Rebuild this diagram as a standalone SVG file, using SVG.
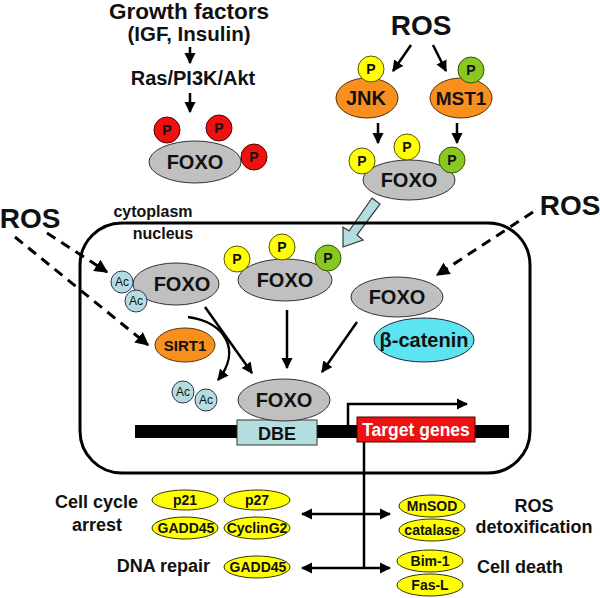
<svg xmlns="http://www.w3.org/2000/svg" width="600" height="598" viewBox="0 0 600 598">
<style>
text{font-family:"Liberation Sans",Arial,sans-serif;font-weight:bold;fill:#111}
.foxo{fill:#c0c0c0;stroke:#333;stroke-width:1}
.pr{fill:#ee1111;stroke:#550000;stroke-width:1}
.py{fill:#ffff00;stroke:#555500;stroke-width:1}
.pg{fill:#88c820;stroke:#335500;stroke-width:1}
.ac{fill:#b4dde0;stroke:#335;stroke-width:1}
.org{fill:#f7901e;stroke:#553300;stroke-width:1}
.gene{fill:#ffff00;stroke:#333300;stroke-width:1}
.ln{stroke:#000;stroke-width:2.5;fill:none}
.dash{stroke:#000;stroke-width:3;fill:none;stroke-dasharray:10,7}
.ft{font-size:20px}
.pt{font-size:14px}
.act{font-size:12px;font-weight:normal}
.gt{font-size:14px}
.lb{font-size:18px}
.ros{font-size:28px}
</style>
<defs>
<marker id="ah" viewBox="0 0 10 10" refX="9" refY="5" markerWidth="4.5" markerHeight="4.5" orient="auto-start-reverse" markerUnits="strokeWidth">
<path d="M0,0 L10,5 L0,10 Z" fill="#000"/>
</marker>
</defs>

<g id="connectors">
<line class="ln" x1="190" y1="47" x2="190" y2="63" marker-end="url(#ah)"/>
<line class="ln" x1="190" y1="93" x2="190" y2="112" marker-end="url(#ah)"/>
<line class="ln" x1="411" y1="45" x2="393" y2="71" marker-end="url(#ah)"/>
<line class="ln" x1="433" y1="45" x2="446" y2="71" marker-end="url(#ah)"/>
<line class="ln" x1="378" y1="123" x2="378" y2="143" marker-end="url(#ah)"/>
<line class="ln" x1="457" y1="123" x2="457" y2="143" marker-end="url(#ah)"/>
<path d="M372,198 L380,204 L357,235 L363,240 L343,247 L343,227 L349,231 Z" fill="#b4dde0" stroke="#333" stroke-width="1.2"/>
<line class="dash" x1="47" y1="233" x2="107" y2="272" marker-end="url(#ah)"/>
<line class="dash" x1="15" y1="237" x2="148" y2="345" marker-end="url(#ah)"/>
<line class="dash" x1="533" y1="212" x2="437" y2="275" marker-end="url(#ah)"/>
<path class="ln" d="M188,317 C225,322 242,350 218,380" marker-end="url(#ah)"/>
<line class="ln" x1="205" y1="307" x2="252" y2="373" marker-end="url(#ah)"/>
<line class="ln" x1="287" y1="310" x2="287" y2="368" marker-end="url(#ah)"/>
<line class="ln" x1="357" y1="322" x2="322" y2="372" marker-end="url(#ah)"/>
<polyline class="ln" points="348,425 348,404 467,404" marker-end="url(#ah)"/>
<line class="ln" x1="364" y1="442" x2="364" y2="568"/>
<line class="ln" x1="302" y1="514" x2="390" y2="514" marker-start="url(#ah)" marker-end="url(#ah)"/>
<line class="ln" x1="302" y1="568" x2="390" y2="568" marker-start="url(#ah)" marker-end="url(#ah)"/>
</g>

<g id="nucleus">
<rect x="80" y="223" width="450" height="250" rx="42" ry="42" fill="none" stroke="#000" stroke-width="3"/>
<text x="153" y="217" text-anchor="middle" style="font-size:16px">cytoplasm</text>
<text x="163" y="239" text-anchor="middle" style="font-size:16px">nucleus</text>
</g>

<g id="growth-factors">
<text x="189" y="19" text-anchor="middle" style="font-size:22.5px">Growth factors</text>
<text x="189" y="41" text-anchor="middle" style="font-size:20.5px">(IGF, Insulin)</text>
<text x="193" y="85" text-anchor="middle" style="font-size:20px">Ras/PI3K/Akt</text>
</g>

<g id="foxo-akt">
<ellipse class="foxo" cx="195" cy="162" rx="46" ry="21"/>
<text class="ft" x="195" y="169" text-anchor="middle">FOXO</text>
<circle class="pr" cx="167" cy="130" r="13"/><text class="pt" x="167" y="135" text-anchor="middle">P</text>
<circle class="pr" cx="219" cy="128" r="13"/><text class="pt" x="219" y="133" text-anchor="middle">P</text>
<circle class="pr" cx="254" cy="157" r="13"/><text class="pt" x="254" y="162" text-anchor="middle">P</text>
</g>

<g id="ros-top"><text class="ros" x="421" y="35" text-anchor="middle">ROS</text></g>
<g id="ros-left"><text class="ros" x="30" y="228" text-anchor="middle">ROS</text></g>
<g id="ros-right"><text class="ros" x="570" y="215" text-anchor="middle">ROS</text></g>

<g id="jnk">
<ellipse class="org" cx="367" cy="98" rx="31" ry="20"/>
<text x="366" y="105" text-anchor="middle" style="font-size:20px">JNK</text>
<circle class="py" cx="371" cy="69" r="13"/><text class="pt" x="371" y="74" text-anchor="middle">P</text>
</g>
<g id="mst1">
<ellipse class="org" cx="461" cy="98" rx="31" ry="20"/>
<text x="461" y="105" text-anchor="middle" style="font-size:19px">MST1</text>
<circle class="pg" cx="471" cy="70" r="13"/><text class="pt" x="471" y="75" text-anchor="middle">P</text>
</g>

<g id="foxo-jnk">
<ellipse class="foxo" cx="409" cy="180" rx="46" ry="20"/>
<text class="ft" x="409" y="187" text-anchor="middle">FOXO</text>
<circle class="py" cx="362" cy="161" r="13"/><text class="pt" x="362" y="166" text-anchor="middle">P</text>
<circle class="py" cx="407" cy="147" r="13"/><text class="pt" x="407" y="152" text-anchor="middle">P</text>
<circle class="pg" cx="452" cy="160" r="13"/><text class="pt" x="452" y="165" text-anchor="middle">P</text>
</g>

<g id="foxo-ac">
<ellipse class="foxo" cx="176" cy="284" rx="43" ry="21"/>
<text class="ft" x="182" y="291" text-anchor="middle">FOXO</text>
<circle class="ac" cx="122" cy="282" r="11"/><text class="act" x="122" y="286" text-anchor="middle">Ac</text>
<circle class="ac" cx="136" cy="301" r="11"/><text class="act" x="136" y="305" text-anchor="middle">Ac</text>
</g>

<g id="sirt1">
<ellipse class="org" cx="185" cy="345" rx="30" ry="17"/>
<text x="185" y="351" text-anchor="middle" style="font-size:15px">SIRT1</text>
</g>

<g id="free-ac">
<circle class="ac" cx="183" cy="392" r="11"/><text class="act" x="183" y="396" text-anchor="middle">Ac</text>
<circle class="ac" cx="206" cy="400" r="11"/><text class="act" x="206" y="404" text-anchor="middle">Ac</text>
</g>

<g id="foxo-p-nuc">
<ellipse class="foxo" cx="285" cy="280" rx="47" ry="21"/>
<text class="ft" x="285" y="287" text-anchor="middle">FOXO</text>
<circle class="py" cx="237" cy="259" r="13"/><text class="pt" x="237" y="264" text-anchor="middle">P</text>
<circle class="py" cx="282" cy="247" r="13"/><text class="pt" x="282" y="252" text-anchor="middle">P</text>
<circle class="pg" cx="328" cy="258" r="13"/><text class="pt" x="328" y="263" text-anchor="middle">P</text>
</g>

<g id="foxo-bcat">
<ellipse class="foxo" cx="397" cy="297" rx="46" ry="20"/>
<text class="ft" x="397" y="304" text-anchor="middle">FOXO</text>
<ellipse cx="424" cy="340" rx="50" ry="22" fill="#5ce4f0" stroke="#224" stroke-width="1"/>
<text x="424" y="347" text-anchor="middle" style="font-size:20px">β-catenin</text>
</g>

<g id="dna">
<rect x="135" y="425" width="374" height="13" fill="#000"/>
<rect x="237" y="420" width="80" height="25" fill="#b4dde0" stroke="#333" stroke-width="1"/>
<text x="277" y="440" text-anchor="middle" style="font-size:18px">DBE</text>
<rect x="357" y="417" width="118" height="25" fill="#ee1111" stroke="#550000" stroke-width="1"/>
<text x="416" y="436" text-anchor="middle" style="font-size:17.5px;fill:#fff">Target genes</text>
</g>

<g id="foxo-dbe">
<ellipse class="foxo" cx="284" cy="400" rx="46" ry="21"/>
<text class="ft" x="284" y="407" text-anchor="middle">FOXO</text>
</g>

<g id="cell-cycle">
<text class="lb" x="138" y="508" text-anchor="end">Cell cycle</text>
<text class="lb" x="97" y="531" text-anchor="middle">arrest</text>
<ellipse class="gene" cx="185" cy="500" rx="33" ry="10"/><text class="gt" x="185" y="505" text-anchor="middle">p21</text>
<ellipse class="gene" cx="257" cy="500" rx="33" ry="10"/><text class="gt" x="257" y="505" text-anchor="middle">p27</text>
<ellipse class="gene" cx="185" cy="528" rx="33" ry="11"/><text class="gt" x="186" y="533" text-anchor="middle">GADD45</text>
<ellipse class="gene" cx="257" cy="528" rx="33" ry="11"/><text class="gt" x="257" y="533" text-anchor="middle">CyclinG2</text>
</g>

<g id="dna-repair">
<text class="lb" x="210" y="572" text-anchor="end">DNA repair</text>
<ellipse class="gene" cx="257" cy="567" rx="33" ry="11"/><text class="gt" x="258" y="572" text-anchor="middle">GADD45</text>
</g>

<g id="ros-detox">
<ellipse class="gene" cx="432" cy="506" rx="33" ry="11"/><text class="gt" x="432" y="511" text-anchor="middle">MnSOD</text>
<ellipse class="gene" cx="432" cy="530" rx="33" ry="11"/><text class="gt" x="432" y="535" text-anchor="middle">catalase</text>
<text class="lb" x="534" y="512" text-anchor="middle">ROS</text>
<text class="lb" x="534" y="533" text-anchor="middle">detoxification</text>
</g>

<g id="cell-death">
<ellipse class="gene" cx="430" cy="561" rx="33" ry="11"/><text class="gt" x="430" y="566" text-anchor="middle">Bim-1</text>
<ellipse class="gene" cx="430" cy="585" rx="33" ry="11"/><text class="gt" x="430" y="590" text-anchor="middle">Fas-L</text>
<text class="lb" x="477" y="573">Cell death</text>
</g>
</svg>
